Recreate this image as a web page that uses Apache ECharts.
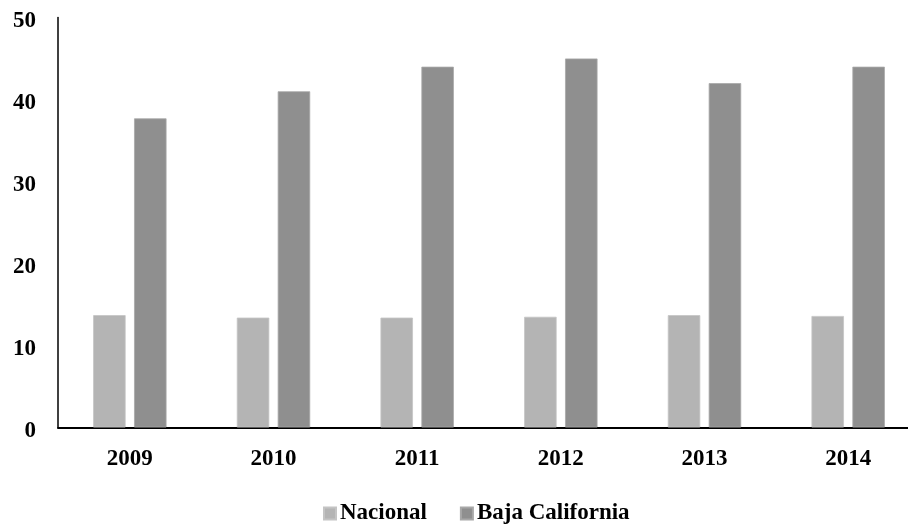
<!DOCTYPE html>
<html>
<head>
<meta charset="utf-8">
<script src="https://cdn.jsdelivr.net/npm/echarts@6/dist/echarts.min.js"></script>
<style>
html,body{margin:0;padding:0;background:#fff;}
#chart{width:908px;height:531px;}
</style>
</head>
<body>
<div id="chart"></div>
<script>
var years = ['2009','2010','2011','2012','2013','2014'];
var nacional = [13.7, 13.4, 13.4, 13.5, 13.7, 13.6];
var bajaCalifornia = [37.7, 41.0, 44.0, 45.0, 42.0, 44.0];
var seriesNames = ['Nacional', 'Baja California'];

var font = '"Liberation Serif", "Times New Roman", serif';
var chart = echarts.init(document.getElementById('chart'), null, {renderer: 'canvas'});
chart.setOption({
  animation: false,
  backgroundColor: '#fff',
  textStyle: {fontFamily: font},
  grid: {left: 58, width: 862, top: 17.5, height: 410, containLabel: false, outerBoundsMode: 'none'},
  legend: {
    data: seriesNames,
    left: 318,
    top: 497,
    itemWidth: 12,
    itemHeight: 12,
    itemGap: 33,
    icon: 'rect',
    textStyle: {fontFamily: font, fontSize: 23, fontWeight: 'bold', color: '#000', padding: [0,0,0,-1]}
  },
  xAxis: {
    type: 'category',
    data: years,
    axisLine: {lineStyle: {color: '#000', width: 2}},
    axisTick: {show: false},
    axisLabel: {fontFamily: font, fontSize: 23, fontWeight: 'bold', color: '#000', margin: 20}
  },
  yAxis: {
    type: 'value',
    min: 0, max: 50, interval: 10,
    axisLine: {show: true, lineStyle: {color: '#000', width: 1.5}},
    axisTick: {show: false},
    splitLine: {show: false},
    axisLabel: {
      margin: 22,
      formatter: '{v|{value}}',
      rich: {v: {fontFamily: font, fontSize: 23, fontWeight: 'bold', color: '#000', padding: [7,0,0,0]}}
    }
  },
  series: [
    {name: seriesNames[0], type: 'bar', data: nacional, barWidth: '22.6%', barGap: '26%',
     itemStyle: {color: '#b4b4b4', borderColor: '#c4c4c4', borderWidth: 0.8}},
    {name: seriesNames[1], type: 'bar', data: bajaCalifornia, barWidth: '22.6%', barGap: '26%',
     itemStyle: {color: '#8f8f8f', borderColor: '#a8a8a8', borderWidth: 0.8}}
  ]
});
</script>
</body>
</html>
